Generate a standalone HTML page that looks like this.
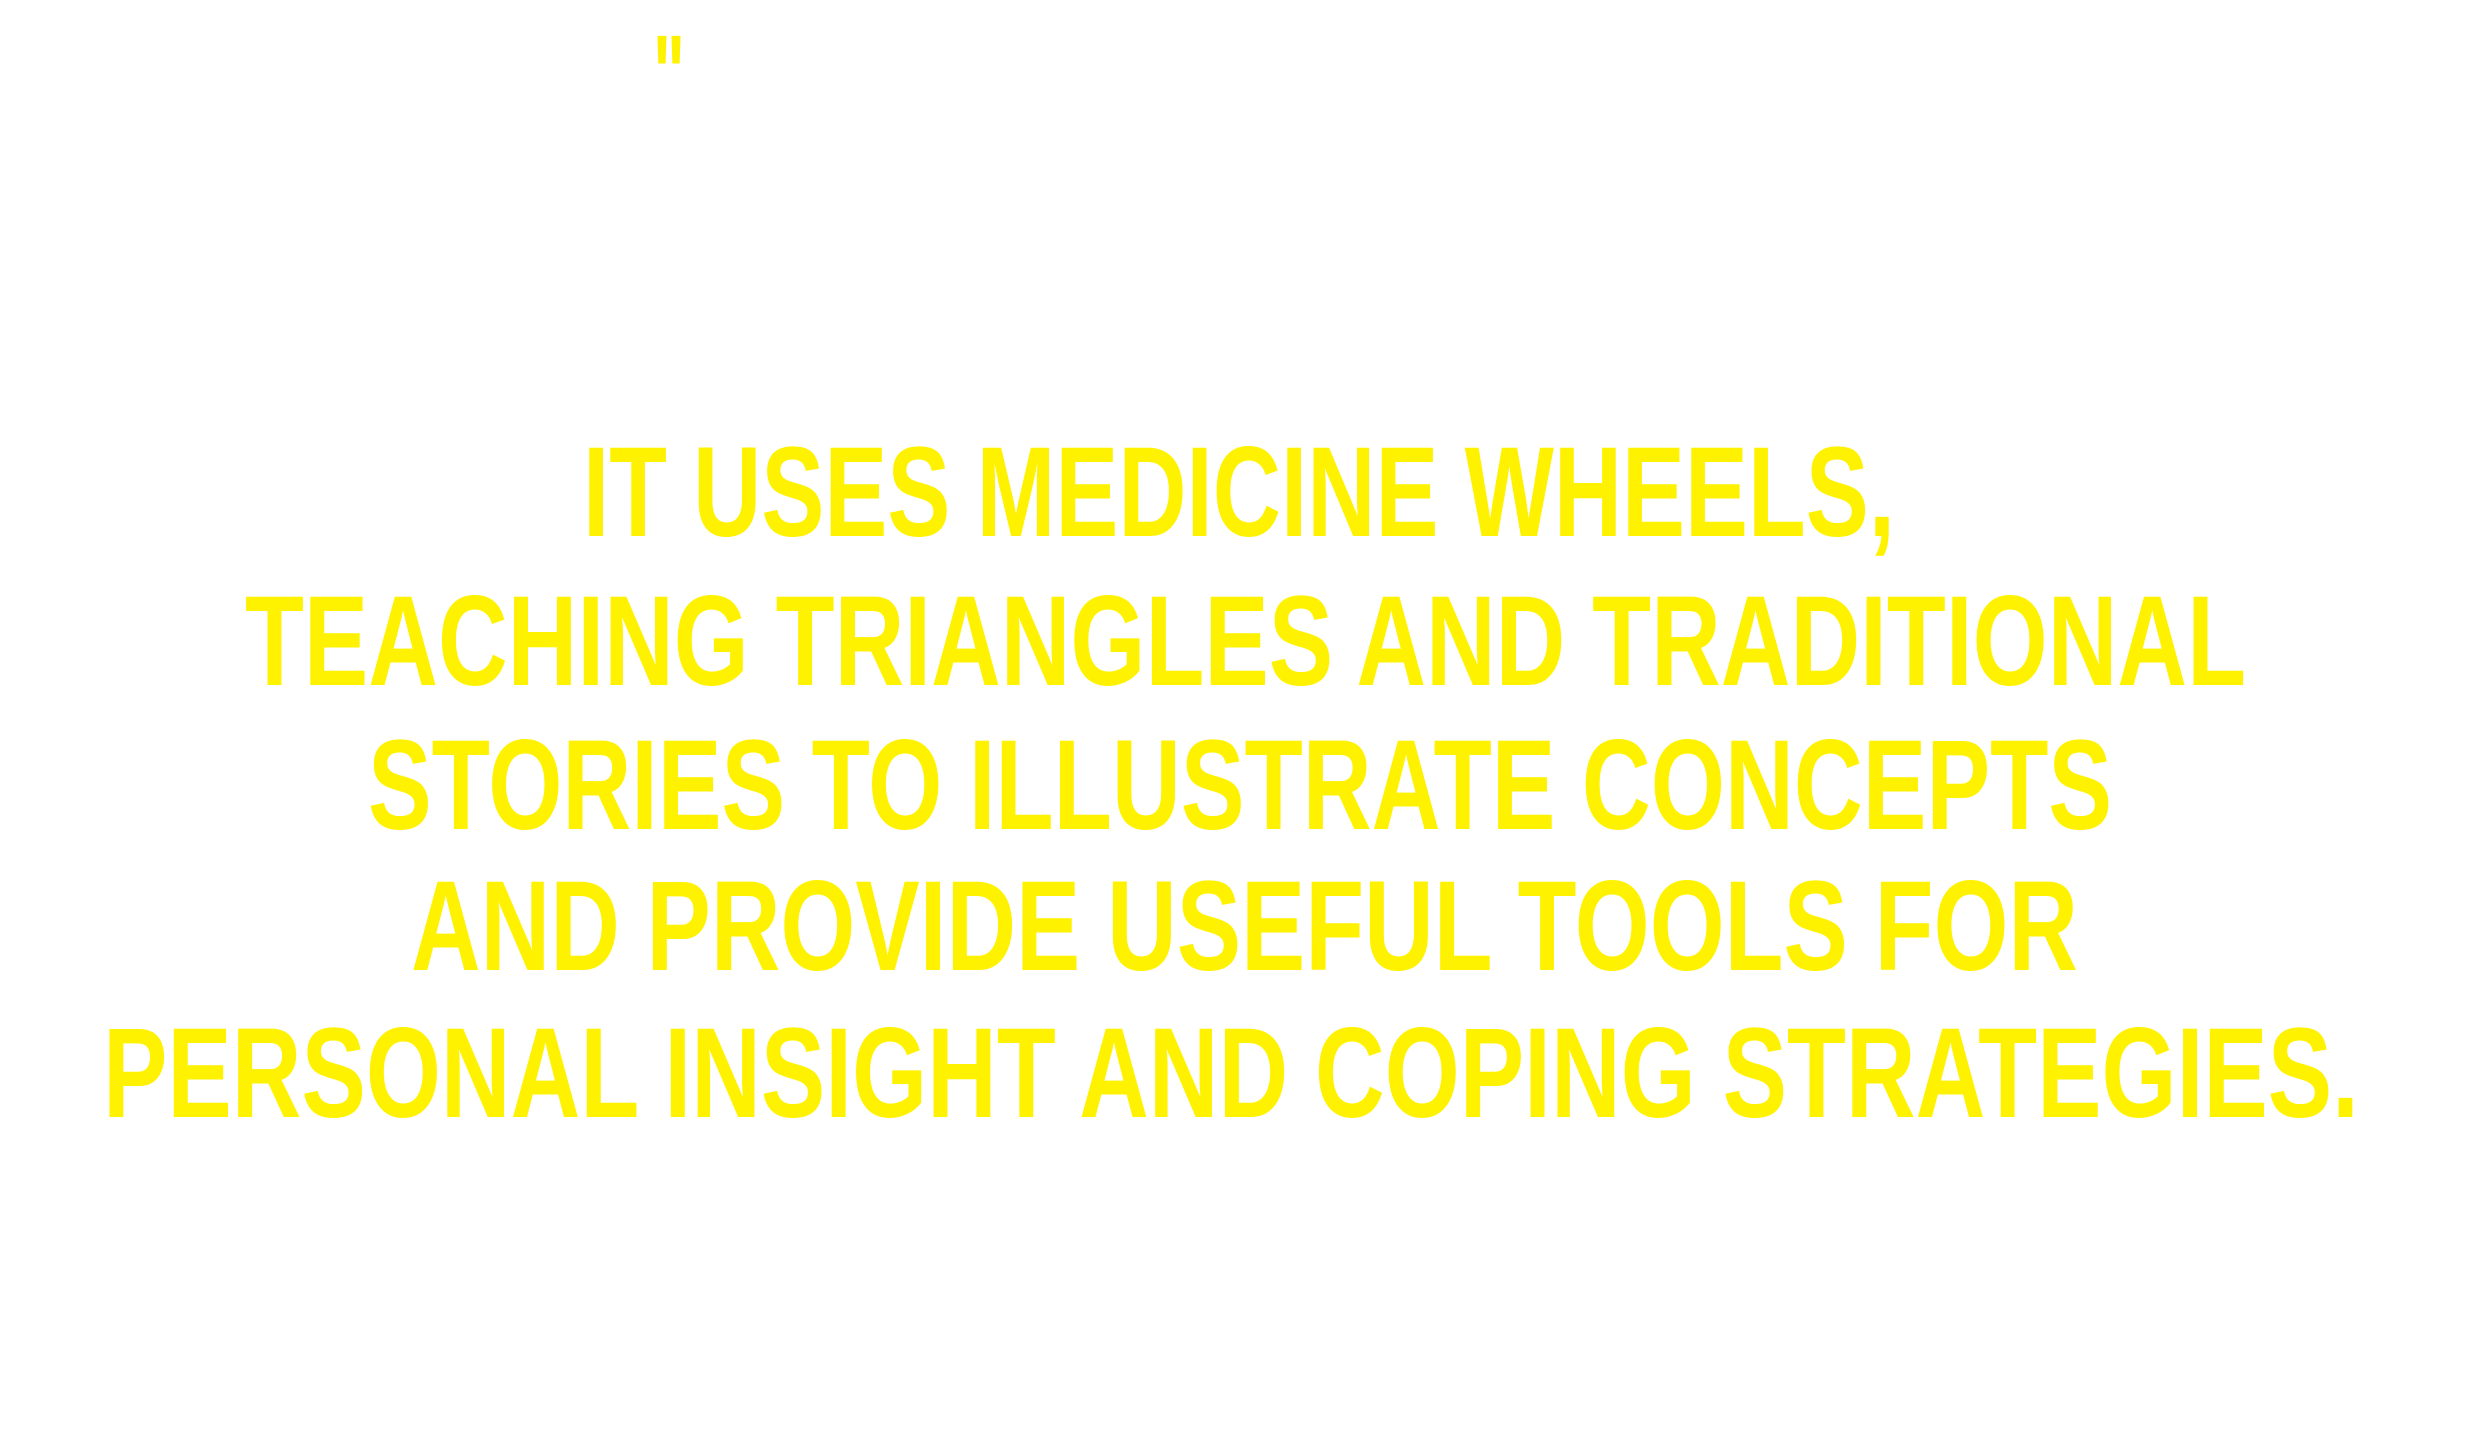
<!DOCTYPE html>
<html>
<head>
<meta charset="utf-8">
<style>
  html,body{margin:0;padding:0;background:#fff;}
  svg{display:block;}
  text{font-family:"Liberation Sans",sans-serif;font-weight:bold;fill:#FFF200;text-transform:uppercase;}
</style>
</head>
<body>
<svg width="2485" height="1440" viewBox="0 0 2485 1440">
  <text x="653" y="112" font-size="110" textLength="32" lengthAdjust="spacingAndGlyphs">"</text>
  <text x="583" y="536" font-size="128" textLength="1312" lengthAdjust="spacingAndGlyphs">IT USES MEDICINE WHEELS,</text>
  <text x="245" y="685" font-size="128" textLength="2001" lengthAdjust="spacingAndGlyphs">TEACHING TRIANGLES AND TRADITIONAL</text>
  <text x="368" y="829" font-size="128" textLength="1744" lengthAdjust="spacingAndGlyphs">STORIES TO ILLUSTRATE CONCEPTS</text>
  <text x="411" y="970" font-size="128" textLength="1667" lengthAdjust="spacingAndGlyphs">AND PROVIDE USEFUL TOOLS FOR</text>
  <text x="103" y="1117" font-size="128" textLength="2256" lengthAdjust="spacingAndGlyphs">PERSONAL INSIGHT AND COPING STRATEGIES.</text>
</svg>
</body>
</html>
